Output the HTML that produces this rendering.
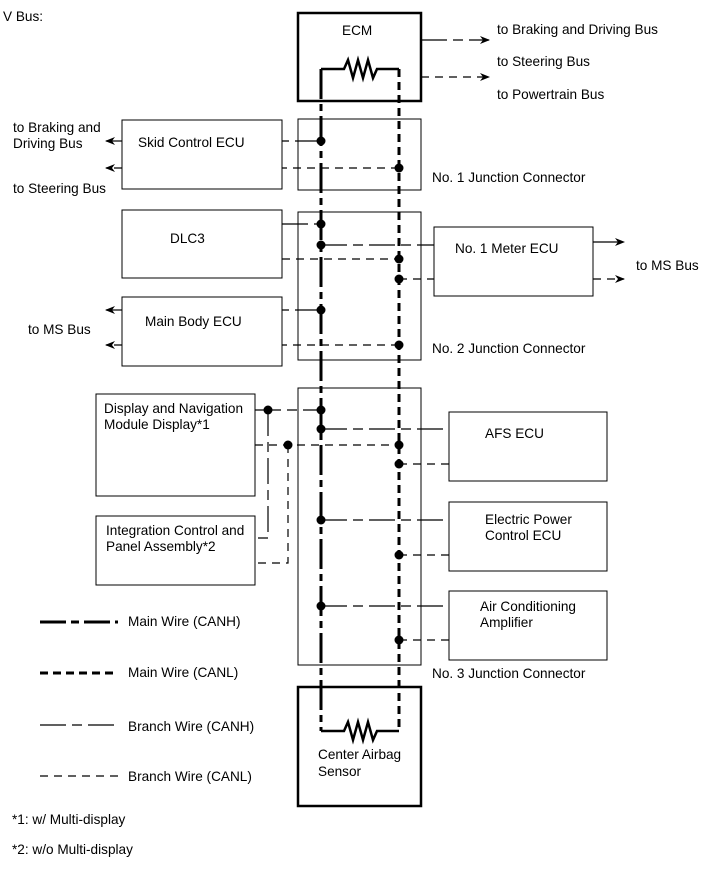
<!DOCTYPE html>
<html><head><meta charset="utf-8"><style>
html,body{margin:0;padding:0;background:#fff;}
svg{display:block;}
text{font-family:"Liberation Sans",Arial,sans-serif;font-size:13.6px;fill:#000;}
</style></head><body>
<svg width="713" height="882" viewBox="0 0 713 882" xmlns="http://www.w3.org/2000/svg">
<defs>
<marker id="ar" markerWidth="10" markerHeight="8" refX="9" refY="4" orient="auto" markerUnits="userSpaceOnUse">
<path d="M0,0 L10,4 L0,8 L3,4 Z" fill="#000"/></marker>
</defs>
<text x="3" y="21">V Bus:</text>

<g fill="none" stroke="#000">
<rect x="298" y="13" width="123" height="88" stroke-width="2.5"/>
<rect x="298" y="687" width="123" height="119" stroke-width="2.5"/>
<rect x="298" y="119" width="123" height="71" stroke-width="1"/>
<rect x="298" y="212" width="123" height="148" stroke-width="1"/>
<rect x="298" y="388" width="123" height="277" stroke-width="1"/>
<rect x="122" y="120" width="160" height="69" stroke-width="1"/>
<rect x="122" y="210" width="160" height="68" stroke-width="1"/>
<rect x="122" y="297" width="160" height="69" stroke-width="1"/>
<rect x="96" y="394" width="159" height="102" stroke-width="1"/>
<rect x="96" y="516" width="159" height="69" stroke-width="1"/>
<rect x="434" y="227" width="159" height="69" stroke-width="1"/>
<rect x="449" y="412" width="158" height="69" stroke-width="1"/>
<rect x="449" y="502" width="158" height="69" stroke-width="1"/>
<rect x="449" y="591" width="158" height="69" stroke-width="1"/>
</g>

<g fill="none" stroke="#000" stroke-width="2.5">
<path d="M321,69 H344 L348,60 L353,78 L358,60 L363,78 L368,60 L373,78 L377,69 H399"/>
<path d="M321,731 H344 L348,722 L353,740 L358,722 L363,740 L368,722 L373,740 L377,731 H399"/>
</g>

<line x1="321" y1="69" x2="321" y2="731" stroke="#000" stroke-width="3" stroke-dasharray="30 5 7 5"/>
<line x1="399" y1="69" x2="399" y2="731" stroke="#000" stroke-width="3" stroke-dasharray="8 5"/>

<g stroke="#000" stroke-width="1.2" fill="none" stroke-dasharray="26 6 10 6">
<line x1="421" y1="40" x2="489" y2="40" marker-end="url(#ar)"/>
<line x1="321" y1="141" x2="282" y2="141"/>
<line x1="122" y1="141" x2="106" y2="141" marker-end="url(#ar)"/>
<line x1="282" y1="224" x2="321" y2="224"/>
<line x1="321" y1="245" x2="434" y2="245"/>
<line x1="593" y1="242" x2="624" y2="242" marker-end="url(#ar)"/>
<line x1="321" y1="310" x2="282" y2="310"/>
<line x1="122" y1="310" x2="106" y2="310" marker-end="url(#ar)"/>
<line x1="255" y1="410" x2="321" y2="410"/>
<path d="M268,410 V538 H255"/>
<line x1="321" y1="429" x2="449" y2="429"/>
<line x1="321" y1="520" x2="449" y2="520"/>
<line x1="321" y1="606" x2="449" y2="606"/>
<line x1="40" y1="725" x2="118" y2="725"/>
</g>
<g stroke="#000" stroke-width="1.2" fill="none" stroke-dasharray="8 6">
<line x1="421" y1="77" x2="489" y2="77" marker-end="url(#ar)"/>
<line x1="399" y1="168" x2="282" y2="168"/>
<line x1="122" y1="168" x2="106" y2="168" marker-end="url(#ar)"/>
<line x1="282" y1="259" x2="399" y2="259"/>
<line x1="399" y1="279" x2="434" y2="279"/>
<line x1="593" y1="279" x2="624" y2="279" marker-end="url(#ar)"/>
<line x1="399" y1="345" x2="282" y2="345"/>
<line x1="122" y1="345" x2="106" y2="345" marker-end="url(#ar)"/>
<line x1="255" y1="445" x2="399" y2="445"/>
<path d="M288,445 V563 H255"/>
<line x1="399" y1="464" x2="449" y2="464"/>
<line x1="399" y1="555" x2="449" y2="555"/>
<line x1="399" y1="640" x2="449" y2="640"/>
<line x1="40" y1="776" x2="118" y2="776"/>
</g>

<line x1="40" y1="622" x2="118" y2="622" stroke="#000" stroke-width="3" stroke-dasharray="26 5 8 5"/>
<line x1="40" y1="673" x2="118" y2="673" stroke="#000" stroke-width="3" stroke-dasharray="8 5"/>

<g fill="#000">
<circle cx="321" cy="141" r="4.5"/><circle cx="399" cy="168" r="4.5"/>
<circle cx="321" cy="224" r="4.5"/><circle cx="321" cy="245" r="4.5"/>
<circle cx="399" cy="259" r="4.5"/><circle cx="399" cy="279" r="4.5"/>
<circle cx="321" cy="310" r="4.5"/><circle cx="399" cy="345" r="4.5"/>
<circle cx="268" cy="410" r="4.5"/><circle cx="321" cy="410" r="4.5"/>
<circle cx="321" cy="429" r="4.5"/><circle cx="288" cy="445" r="4.5"/>
<circle cx="399" cy="445" r="4.5"/><circle cx="399" cy="464" r="4.5"/>
<circle cx="321" cy="520" r="4.5"/><circle cx="399" cy="555" r="4.5"/>
<circle cx="321" cy="606" r="4.5"/><circle cx="399" cy="640" r="4.5"/>
</g>

<text x="342" y="35">ECM</text>
<text x="497" y="34">to Braking and Driving Bus</text>
<text x="497" y="66">to Steering Bus</text>
<text x="497" y="99">to Powertrain Bus</text>
<text x="13" y="132">to Braking and</text>
<text x="13" y="148">Driving Bus</text>
<text x="13" y="193">to Steering Bus</text>
<text x="138" y="147">Skid Control ECU</text>
<text x="432" y="182">No. 1 Junction Connector</text>
<text x="170" y="243">DLC3</text>
<text x="455" y="253">No. 1 Meter ECU</text>
<text x="636" y="270">to MS Bus</text>
<text x="28" y="334">to MS Bus</text>
<text x="145" y="326">Main Body ECU</text>
<text x="432" y="353">No. 2 Junction Connector</text>
<text x="104" y="413">Display and Navigation</text>
<text x="104" y="429">Module Display*1</text>
<text x="106" y="535">Integration Control and</text>
<text x="106" y="551">Panel Assembly*2</text>
<text x="485" y="438">AFS ECU</text>
<text x="485" y="524">Electric Power</text>
<text x="485" y="540">Control ECU</text>
<text x="480" y="611">Air Conditioning</text>
<text x="480" y="627">Amplifier</text>
<text x="432" y="678">No. 3 Junction Connector</text>
<text x="318" y="759">Center Airbag</text>
<text x="318" y="776">Sensor</text>
<text x="128" y="626">Main Wire (CANH)</text>
<text x="128" y="677">Main Wire (CANL)</text>
<text x="128" y="731">Branch Wire (CANH)</text>
<text x="128" y="781">Branch Wire (CANL)</text>
<text x="12" y="824">*1: w/ Multi-display</text>
<text x="12" y="854">*2: w/o Multi-display</text>
</svg>
</body></html>
